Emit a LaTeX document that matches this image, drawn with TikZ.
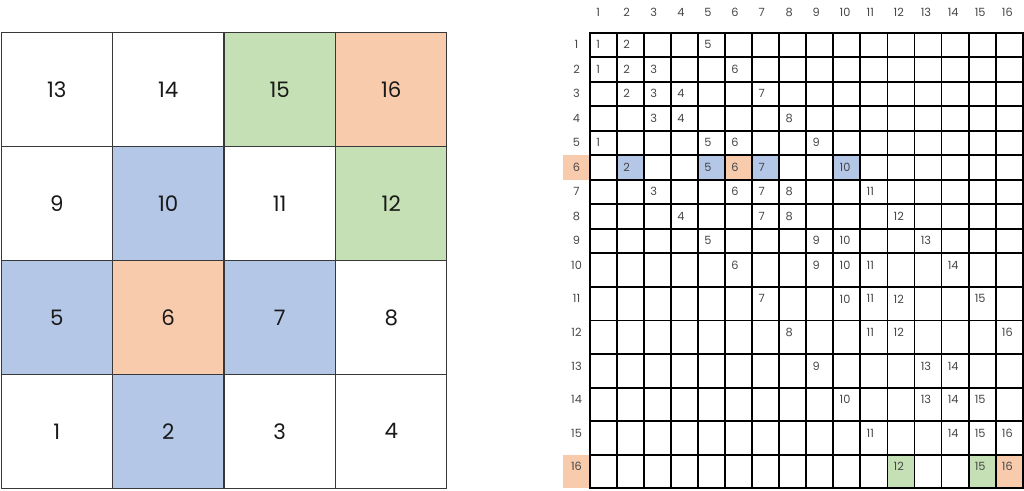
\documentclass[tikz,border=0pt]{standalone}
\usepackage{fontspec}
\setmainfont{Poppins}
\usepackage{tikz}
\usetikzlibrary{positioning}
\usepackage{xcolor}
\definecolor{gridblue}{RGB}{180,199,231}
\definecolor{gridorange}{RGB}{248,203,173}
\definecolor{gridgreen}{RGB}{197,224,180}
\definecolor{gridtext}{RGB}{70,70,70}
\tikzstyle{bigcell} = [rectangle, draw=black!78, line width=0.75pt, minimum width=83.6pt, minimum height=85.4pt, inner sep=0pt, outer sep=0pt, anchor=north west, text=black!90, font=\fontsize{16}{18}\selectfont]
\tikzstyle{cell} = [rectangle, draw=black, line width=1.4pt, minimum width=20.28pt, inner sep=0pt, outer sep=0pt, anchor=north west]
\tikzstyle{rowtag} = [rectangle, minimum width=20.28pt, inner sep=0pt, outer sep=0pt, anchor=north west]
\tikzstyle{entry} = [anchor=west, inner sep=0pt, text=gridtext, font=\fontsize{8.5}{10}\selectfont]
\tikzstyle{head} = [inner sep=0pt, text=gridtext, font=\fontsize{8.5}{10}\selectfont]
\tikzset{
  hl6-2/.style={fill=gridblue}, hl6-5/.style={fill=gridblue}, hl6-6/.style={fill=gridorange},
  hl6-7/.style={fill=gridblue}, hl6-10/.style={fill=gridblue},
  hl16-12/.style={fill=gridgreen}, hl16-15/.style={fill=gridgreen}, hl16-16/.style={fill=gridorange},
  tag6/.style={fill=gridorange}, tag16/.style={fill=gridorange}
}

\begin{document}
\begin{tikzpicture}[x=0.75pt, y=-0.75pt]
\useasboundingbox (0,0) rectangle (1024,490);
% 4x4 board
\foreach \k/\col in {1/white,2/gridblue,3/white,4/white,5/gridblue,6/gridorange,7/gridblue,8/white,
                     9/white,10/gridblue,11/white,12/gridgreen,13/white,14/white,15/gridgreen,16/gridorange}{
  \pgfmathsetmacro\bx{1+mod(\k-1,4)*111.5}
  \pgfmathsetmacro\by{32.7+(3-floor((\k-1)/4))*113.9}
  \node[bigcell, fill=\col] (n\k) at (\bx,\by) {\k};
}
% adjacency table
\foreach \c in {1,...,16}{
  \pgfmathsetmacro\cx{590+(\c-1)*27.04}
  \node[head, anchor=west] (col\c) at (\cx+6,12.3) {\c};
}
\foreach \r in {1,...,16}{
  \pgfmathsetmacro\ry{\r<10 ? 32.7+(\r-1)*24.51 : 253.3+(\r-10)*33.57}
  \pgfmathsetmacro\rh{\r<10 ? 24.51 : 33.57}
  \node[rowtag, minimum height=\rh*0.75pt, tag\r/.try] (tag\r) at (563,\ry) {};
  \node[head] (row\r) at ([yshift=-9pt]tag\r.north) {\r};
  \foreach \c in {1,...,16}{
    \pgfmathsetmacro\cx{590+(\c-1)*27.04}
    \node[cell, minimum height=\rh*0.75pt, hl\r-\c/.try] (m\r-\c) at (\cx,\ry) {};
  }
}
\foreach \r/\list in {1/{1,2,5},2/{1,2,3,6},3/{2,3,4,7},4/{3,4,8},5/{1,5,6,9},6/{2,5,6,7,10},
                      7/{3,6,7,8,11},8/{4,7,8,12},9/{5,9,10,13},10/{6,9,10,11,14},11/{7,10,11,12,15},
                      12/{8,11,12,16},13/{9,13,14},14/{10,13,14,15},15/{11,14,15,16},16/{12,15,16}}{
  \foreach \c in \list
    \node[entry] (e\r-\c) at ([xshift=4.5pt, yshift=-9pt]m\r-\c.north west) {\c};
}
\end{tikzpicture}
\end{document}
